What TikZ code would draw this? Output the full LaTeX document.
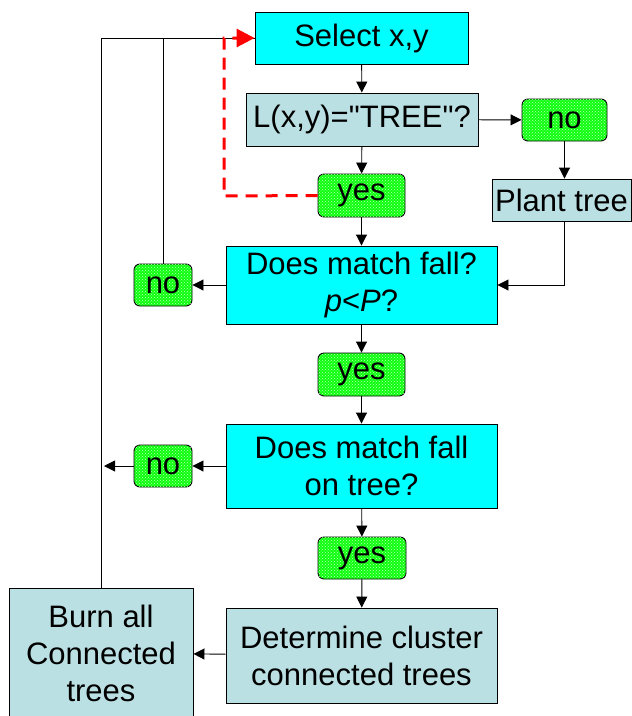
\documentclass[tikz,border=0pt]{standalone}
\usepackage{fontspec}
\setmainfont{Liberation Sans}[Ligatures=TeXOff]
\usetikzlibrary{arrows.meta,patterns}
\definecolor{cy}{HTML}{00FFFF}
\definecolor{lb}{HTML}{BBE0E3}
\definecolor{gr}{HTML}{11FF11}
\begin{document}
\begin{tikzpicture}[x=1pt,y=-1pt,
  base/.style={draw=black, line width=0.9pt, font=\fontsize{31}{37}\selectfont, align=center, inner sep=0pt},
  cybox/.style={base, fill=cy},
  lbbox/.style={base, fill=lb},
  gbox/.style={base, rounded corners=6pt, fill=gr, postaction={pattern=crosshatch dots, pattern color=white!70!gr}},
  arr/.style={-{Triangle[length=11pt,width=11pt]}, line width=0.9pt},
  plain/.style={line width=0.9pt},
  redarr/.style={red, line width=3pt, dash pattern=on 12pt off 8pt, -{Triangle[length=18pt,width=18pt]}}]
\useasboundingbox (0,0) rectangle (632,716);
\node[cybox, minimum width=213pt, minimum height=52pt] (sel) at (361.5,38) {Select x,y};
\node[lbbox, minimum width=232pt, minimum height=53pt] (L) at (362,119.5) {L(x,y)="TREE"?};
\node[gbox, minimum width=87pt, minimum height=43pt] (yes1) at (361.5,195.5) {yes};
\node[gbox, minimum width=85pt, minimum height=42pt] (no1) at (564.5,120) {no};
\node[lbbox, minimum width=139pt, minimum height=42pt] (plant) at (561.5,200) {Plant tree};
\node[cybox, minimum width=271pt, minimum height=78pt] (d1) at (361.5,285) {Does match fall?\\\textit{p}<\textit{P}?};
\node[gbox, minimum width=58pt, minimum height=42pt] (no2) at (163,285) {no};
\node[gbox, minimum width=87pt, minimum height=43pt] (yes2) at (361.5,374.5) {yes};
\node[cybox, minimum width=271pt, minimum height=84pt] (d2) at (361.5,466) {Does match fall\\on tree?};
\node[gbox, minimum width=58pt, minimum height=42pt] (no3) at (163,466) {no};
\node[gbox, minimum width=88pt, minimum height=42pt] (yes3) at (362,558) {yes};
\node[lbbox, minimum width=271pt, minimum height=95pt] (det) at (361.5,655.5) {Determine cluster\\connected trees};
\node[lbbox, minimum width=184pt, minimum height=130pt] (burn) at (101,653) {Burn all\\Connected\\trees};
\coordinate (rc) at (224,196);
\coordinate (n3end) at (104,466);
% connectors
\draw[arr] (sel) -- (L);
\draw[arr] (L) -- (yes1);
\draw[arr] (L) -- (no1);
\draw[arr] (no1.south) -- (no1.south |- plant.north);
\draw[arr] (plant.south -| no1.south) |- (d1.east);
\draw[arr] (yes1) -- (d1);
\draw[arr] (d1) -- (no2);
\draw[arr] (d1) -- (yes2);
\draw[arr] (yes2) -- (d2);
\draw[arr] (d2) -- (no3);
\draw[arr] (no3) -- (n3end);
\draw[arr] (d2) -- (yes3);
\draw[arr] (yes3) -- (det);
\draw[arr] (det) -- (burn);
\draw[plain] (burn.north) |- (sel.west);
\draw[plain] (no2.north) -- (no2.north |- sel.west);
\draw[redarr] (yes1.west) -- (rc) |- (sel.west);
\end{tikzpicture}
\end{document}
